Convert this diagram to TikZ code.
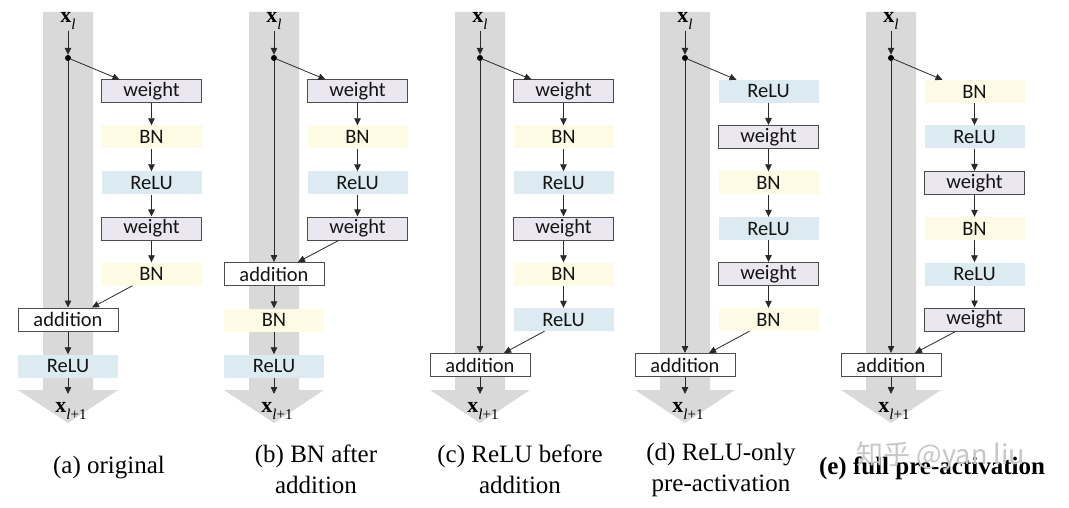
\documentclass[tikz,border=0pt]{standalone}
\usepackage{fontspec}
\setmainfont{Liberation Serif}
\newfontfamily\boxfont{Carlito}
\newfontfamily\cjkfont{Noto Sans CJK SC}
\usetikzlibrary{arrows.meta}
\definecolor{barcol}{HTML}{D9D9D9}
\definecolor{wcol}{HTML}{EBE7F1}
\definecolor{bncol}{HTML}{FDFBE4}
\definecolor{relucol}{HTML}{DCEBF2}
\definecolor{linecol}{HTML}{2A2A2A}
\newcommand{\xin}{\textbf{x}\raisebox{-0.3em}{\fontsize{15}{15}\selectfont\itshape l}}
\newcommand{\xout}{\textbf{x}\raisebox{-0.3em}{\fontsize{15}{15}\selectfont\itshape l\upshape+1}}
\tikzset{
  blk/.style={minimum width=100pt, minimum height=23pt, inner sep=0pt, font=\boxfont\fontsize{20.5}{20.5}\selectfont, text=black!92},
  wbox/.style={blk, fill=wcol, draw=black!70, line width=1pt},
  bnbox/.style={blk, fill=bncol},
  rbox/.style={blk, fill=relucol},
  addbox/.style={blk, fill=white, draw=black!70, line width=1pt},
  conn/.style={draw=linecol, line width=0.8pt, -{Triangle[length=7pt,width=6.5pt]}},
  lbl/.style={font=\fontsize{22}{22}\selectfont, inner sep=1pt},
  dotnode/.style={circle, fill=black, inner sep=0pt, minimum size=6pt},
  captxt/.style={font=\fontsize{25}{31}\selectfont, align=center, inner sep=0pt},
  barshape/.style={fill=barcol}
}
\begin{document}
\begin{tikzpicture}[x=1pt, y=-1pt]
\useasboundingbox (0,0) rectangle (1069,508);
\fill[white] (0,0) rectangle (1069,508);

% ---------- (a) original ----------
\begin{scope}[shift={(68,0)}]
\fill[barshape] (-25,12) -- (25,12) -- (25,390) -- (50,390) -- (0,423) -- (-50,390) -- (-25,390) -- cycle;
\node[lbl] (axl) at (0,21) {\xin};
\node[dotnode] (adot) at (0,58) {};
\node[wbox]  (a1) at (83.5,91.5) {weight};
\node[bnbox] (a2) at (83.5,137) {BN};
\node[rbox]  (a3) at (83.5,183) {ReLU};
\node[wbox]  (a4) at (83.5,228.5) {weight};
\node[bnbox] (a5) at (83.5,274) {BN};
\node[addbox] (aadd) at (0,319.5) {addition};
\node[rbox]  (aout) at (0,366) {ReLU};
\coordinate (atip) at (0,394);
\node[lbl] (axo) at (3,411) {\xout};
\draw[conn] (axl.south) -- (adot.north);
\draw[conn] (adot) -- ([xshift=-32pt]a1.north);
\draw[conn] (a1) -- (a2);
\draw[conn] (a2) -- (a3);
\draw[conn] (a3) -- (a4);
\draw[conn] (a4) -- (a5);
\draw[conn] (adot) -- (aadd);
\draw[conn] ([xshift=-19pt]a5.south) -- ([xshift=24pt]aadd.north);
\draw[conn] (aadd) -- (aout);
\draw[conn] (aout) -- (atip);
\end{scope}

% ---------- (b) BN after addition ----------
\begin{scope}[shift={(274,0)}]
\fill[barshape] (-25,12) -- (25,12) -- (25,390) -- (50,390) -- (0,423) -- (-50,390) -- (-25,390) -- cycle;
\node[lbl] (bxl) at (0,21) {\xin};
\node[dotnode] (bdot) at (0,58) {};
\node[wbox]  (b1) at (83.5,91.5) {weight};
\node[bnbox] (b2) at (83.5,137) {BN};
\node[rbox]  (b3) at (83.5,183) {ReLU};
\node[wbox]  (b4) at (83.5,228.5) {weight};
\node[addbox] (badd) at (0,274) {addition};
\node[bnbox] (b6) at (0,320) {BN};
\node[rbox]  (bout) at (0,366) {ReLU};
\coordinate (btip) at (0,394);
\node[lbl] (bxo) at (3,411) {\xout};
\draw[conn] (bxl.south) -- (bdot.north);
\draw[conn] (bdot) -- ([xshift=-32pt]b1.north);
\draw[conn] (b1) -- (b2);
\draw[conn] (b2) -- (b3);
\draw[conn] (b3) -- (b4);
\draw[conn] (bdot) -- (badd);
\draw[conn] ([xshift=-19pt]b4.south) -- ([xshift=24pt]badd.north);
\draw[conn] (badd) -- (b6);
\draw[conn] (b6) -- (bout);
\draw[conn] (bout) -- (btip);
\end{scope}

% ---------- (c) ReLU before addition ----------
\begin{scope}[shift={(480,0)}]
\fill[barshape] (-25,12) -- (25,12) -- (25,390) -- (50,390) -- (0,423) -- (-50,390) -- (-25,390) -- cycle;
\node[lbl] (cxl) at (0,21) {\xin};
\node[dotnode] (cdot) at (0,58) {};
\node[wbox]  (c1) at (83.5,91.5) {weight};
\node[bnbox] (c2) at (83.5,137) {BN};
\node[rbox]  (c3) at (83.5,183) {ReLU};
\node[wbox]  (c4) at (83.5,228.5) {weight};
\node[bnbox] (c5) at (83.5,274) {BN};
\node[rbox]  (c6) at (83.5,319.5) {ReLU};
\node[addbox] (cadd) at (0,365) {addition};
\coordinate (ctip) at (0,394);
\node[lbl] (cxo) at (3,411) {\xout};
\draw[conn] (cxl.south) -- (cdot.north);
\draw[conn] (cdot) -- ([xshift=-32pt]c1.north);
\draw[conn] (c1) -- (c2);
\draw[conn] (c2) -- (c3);
\draw[conn] (c3) -- (c4);
\draw[conn] (c4) -- (c5);
\draw[conn] (c5) -- (c6);
\draw[conn] (cdot) -- (cadd);
\draw[conn] ([xshift=-19pt]c6.south) -- ([xshift=24pt]cadd.north);
\draw[conn] (cadd) -- (ctip);
\end{scope}

% ---------- (d) ReLU-only pre-activation ----------
\begin{scope}[shift={(685,0)}]
\fill[barshape] (-25,12) -- (25,12) -- (25,390) -- (50,390) -- (0,423) -- (-50,390) -- (-25,390) -- cycle;
\node[lbl] (dxl) at (0,21) {\xin};
\node[dotnode] (ddot) at (0,58) {};
\node[rbox]  (d1) at (83.5,91.5) {ReLU};
\node[wbox]  (d2) at (83.5,137) {weight};
\node[bnbox] (d3) at (83.5,183) {BN};
\node[rbox]  (d4) at (83.5,228.5) {ReLU};
\node[wbox]  (d5) at (83.5,274) {weight};
\node[bnbox] (d6) at (83.5,319.5) {BN};
\node[addbox] (dadd) at (0,365) {addition};
\coordinate (dtip) at (0,394);
\node[lbl] (dxo) at (3,411) {\xout};
\draw[conn] (dxl.south) -- (ddot.north);
\draw[conn] (ddot) -- ([xshift=-32pt]d1.north);
\draw[conn] (d1) -- (d2);
\draw[conn] (d2) -- (d3);
\draw[conn] (d3) -- (d4);
\draw[conn] (d4) -- (d5);
\draw[conn] (d5) -- (d6);
\draw[conn] (ddot) -- (dadd);
\draw[conn] ([xshift=-19pt]d6.south) -- ([xshift=24pt]dadd.north);
\draw[conn] (dadd) -- (dtip);
\end{scope}

% ---------- (e) full pre-activation ----------
\begin{scope}[shift={(891,0)}]
\fill[barshape] (-25,12) -- (25,12) -- (25,390) -- (50,390) -- (0,423) -- (-50,390) -- (-25,390) -- cycle;
\node[lbl] (exl) at (0,21) {\xin};
\node[dotnode] (edot) at (0,58) {};
\node[bnbox] (e1) at (83.5,91.5) {BN};
\node[rbox]  (e2) at (83.5,137) {ReLU};
\node[wbox]  (e3) at (83.5,183) {weight};
\node[bnbox] (e4) at (83.5,228.5) {BN};
\node[rbox]  (e5) at (83.5,274) {ReLU};
\node[wbox]  (e6) at (83.5,319.5) {weight};
\node[addbox] (eadd) at (0,365) {addition};
\coordinate (etip) at (0,394);
\node[lbl] (exo) at (3,411) {\xout};
\draw[conn] (exl.south) -- (edot.north);
\draw[conn] (edot) -- ([xshift=-32pt]e1.north);
\draw[conn] (e1) -- (e2);
\draw[conn] (e2) -- (e3);
\draw[conn] (e3) -- (e4);
\draw[conn] (e4) -- (e5);
\draw[conn] (e5) -- (e6);
\draw[conn] (edot) -- (eadd);
\draw[conn] ([xshift=-19pt]e6.south) -- ([xshift=24pt]eadd.north);
\draw[conn] (eadd) -- (etip);
\end{scope}

% ---------- captions ----------
\node[captxt] (acap) at (109,468) {(a) original};
\node[captxt] (bcap) at (316,469.5) {(b) BN after\\addition};
\node[captxt] (ccap) at (520,469.5) {(c) ReLU before\\addition};
\node[captxt] (dcap) at (721,469.5) {(d) ReLU-only\\pre-activation};
\node[captxt, font=\fontsize{25}{31}\selectfont\bfseries] (ecap) at (932,468) {(e) full pre-activation};
\node[text=black!22, font=\cjkfont\fontsize{27}{27}\selectfont, inner sep=0pt] (wm) at (941,456) {知乎 @yan liu};
\end{tikzpicture}
\end{document}
